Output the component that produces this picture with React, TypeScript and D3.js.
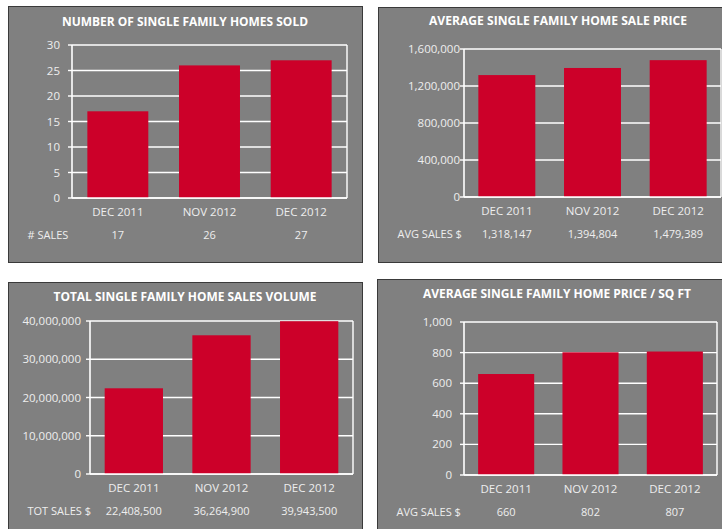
import * as d3 from "d3";

const months = ["DEC 2011", "NOV 2012", "DEC 2012"];

const homesSold = [17, 26, 27];
const avgPrice = [1318147, 1394804, 1479389];
const totalVolume = [22408500, 36264900, 39943500];
const pricePerSqft = [660, 802, 807];

const soldTicks = [0, 5, 10, 15, 20, 25, 30];
const priceTicks = [0, 400000, 800000, 1200000, 1600000];
const volumeTicks = [0, 10000000, 20000000, 30000000, 40000000];
const sqftTicks = [0, 200, 400, 600, 800, 1000];

const fmt = d3.format(",");
const RED = "#cc0029";
const GRAY = "#808080";
const TEXT = "#eeeeee";
const FONT = "'Open Sans', sans-serif";

type PanelProps = {
  box: { x: number; y: number; w: number; h: number };
  plot: { left: number; right: number; top: number; bottom: number };
  title: string;
  titleY: number;
  titleW: number;
  rowLabel: string;
  values: number[];
  ticks: number[];
  tickPad: number;
};

const Panel = ({ box, plot, title, titleY, titleW, rowLabel, values, ticks, tickPad }: PanelProps) => {
  const x = d3.scaleBand().domain(months).range([plot.left, plot.right]).paddingInner(0.335).paddingOuter(0.1675);
  const y = d3.scaleLinear().domain([0, d3.max(ticks) as number]).range([plot.bottom, plot.top]);

  return (
    <g>
      <rect x={box.x + 0.5} y={box.y + 0.5} width={box.w} height={box.h} fill={GRAY} stroke="#3a3a3a" strokeWidth={1} />
      <text
        x={box.x + box.w / 2 > 722 ? (box.x + 722) / 2 : box.x + box.w / 2}
        y={titleY}
        textAnchor="middle"
        fill="#ffffff"
        fontFamily={FONT}
        fontWeight="bold"
        fontSize={12.5}
        textLength={titleW}
        lengthAdjust="spacingAndGlyphs"
      >
        {title}
      </text>
      {ticks.map((t) => (
        <g key={t}>
          <line x1={plot.left} x2={plot.right} y1={y(t)} y2={y(t)} stroke="#ffffff" strokeWidth={1.4} />
          <line x1={plot.left - 4} x2={plot.left} y1={y(t)} y2={y(t)} stroke="#ffffff" strokeWidth={1.4} />
          <text
            x={plot.left - tickPad}
            y={y(t)}
            dy="0.35em"
            textAnchor="end"
            fill={TEXT}
            fontFamily={FONT}
            fontSize={11.5}
          >
            {fmt(t)}
          </text>
        </g>
      ))}
      <line x1={plot.left} x2={plot.left} y1={plot.top} y2={plot.bottom} stroke="#ffffff" strokeWidth={1.6} />
      <line x1={plot.right} x2={plot.right} y1={plot.top} y2={plot.bottom} stroke="#ffffff" strokeWidth={1.4} />
      {values.map((v, i) => (
        <rect
          key={months[i]}
          x={x(months[i])}
          y={y(v)}
          width={x.bandwidth()}
          height={plot.bottom - y(v)}
          fill={RED}
        />
      ))}
      <line x1={plot.left} x2={plot.right} y1={plot.bottom} y2={plot.bottom} stroke="#ffffff" strokeWidth={1.6} />
      {months.map((m, i) => (
        <g key={m}>
          <text
            x={(x(m) as number) + x.bandwidth() / 2}
            y={plot.bottom + 18}
            textAnchor="middle"
            fill={TEXT}
            fontFamily={FONT}
            fontSize={11.5}
          >
            {m}
          </text>
          <text
            x={(x(m) as number) + x.bandwidth() / 2}
            y={plot.bottom + 41}
            textAnchor="middle"
            fill={TEXT}
            fontFamily={FONT}
            fontSize={11}
          >
            {fmt(values[i])}
          </text>
        </g>
      ))}
      <text x={box.x + 19.5} y={plot.bottom + 41} fill={TEXT} fontFamily={FONT} fontSize={11}>
        {rowLabel}
      </text>
    </g>
  );
};

export default function App() {
  return (
    <svg
      width={722}
      height={529}
      style={{ position: "absolute", left: 0, top: 0, background: "#ffffff" }}
    >
      <Panel
        box={{ x: 8, y: 6, w: 354, h: 256 }}
        plot={{ left: 72, right: 347, top: 45, bottom: 198 }}
        title="NUMBER OF SINGLE FAMILY HOMES SOLD"
        titleY={25.5}
        titleW={246}
        rowLabel="# SALES"
        values={homesSold}
        ticks={soldTicks}
        tickPad={12}
      />
      <Panel
        box={{ x: 378, y: 7, w: 360, h: 255 }}
        plot={{ left: 464, right: 721, top: 49, bottom: 197 }}
        title="AVERAGE SINGLE FAMILY HOME SALE PRICE"
        titleY={24.5}
        titleW={258}
        rowLabel="AVG SALES $"
        values={avgPrice}
        ticks={priceTicks}
        tickPad={4}
      />
      <Panel
        box={{ x: 8, y: 282, w: 354, h: 260 }}
        plot={{ left: 90, right: 353, top: 321, bottom: 474 }}
        title="TOTAL SINGLE FAMILY HOME SALES VOLUME"
        titleY={301}
        titleW={263}
        rowLabel="TOT SALES $"
        values={totalVolume}
        ticks={volumeTicks}
        tickPad={9}
      />
      <Panel
        box={{ x: 377, y: 279, w: 360, h: 260 }}
        plot={{ left: 464, right: 717, top: 322, bottom: 475 }}
        title="AVERAGE SINGLE FAMILY HOME PRICE / SQ FT"
        titleY={297.5}
        titleW={268}
        rowLabel="AVG SALES $"
        values={pricePerSqft}
        ticks={sqftTicks}
        tickPad={12}
      />
    </svg>
  );
}
